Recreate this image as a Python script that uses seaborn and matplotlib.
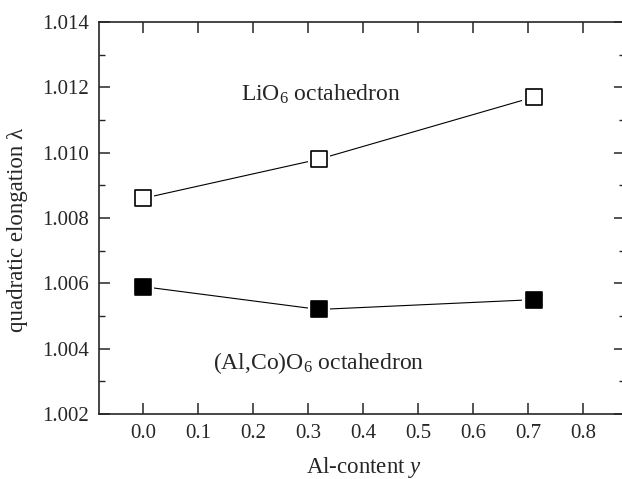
import matplotlib
matplotlib.use("Agg")
import pandas as pd
import matplotlib.pyplot as plt
import seaborn as sns
from matplotlib.ticker import MultipleLocator

# values
al_content = [0.0, 0.32, 0.71]
lio6 = [1.0086, 1.0098, 1.0117]
alcoo6 = [1.0059, 1.0052, 1.0055]
x_ticks = [0.0, 0.1, 0.2, 0.3, 0.4, 0.5, 0.6, 0.7, 0.8]
y_ticks = [1.002, 1.004, 1.006, 1.008, 1.010, 1.012, 1.014]

df = pd.DataFrame({
    "y": al_content * 2,
    "lam": lio6 + alcoo6,
    "site": ["LiO6"] * 3 + ["AlCoO6"] * 3,
})

sns.set_style("ticks")
plt.rcParams["font.family"] = ["Liberation Serif", "DejaVu Serif"]
plt.rcParams["mathtext.fontset"] = "custom"
plt.rcParams["mathtext.rm"] = "Liberation Serif"
plt.rcParams["mathtext.it"] = "Liberation Serif:italic"

fig = plt.figure(figsize=(6.22, 4.79), dpi=100)
ax = fig.add_axes([0.159, 0.1357, 0.8457, 0.8184])

for site, face in [("LiO6", "white"), ("AlCoO6", "black")]:
    sub = df[df["site"] == site]
    sns.lineplot(data=sub, x="y", y="lam", ax=ax, color="black",
                 linewidth=0.8, zorder=2)
    # white halo so the line stops short of the marker
    sns.scatterplot(data=sub, x="y", y="lam", ax=ax, marker="s", s=260,
                    color="white", edgecolor="none", zorder=3)
    sns.scatterplot(data=sub, x="y", y="lam", ax=ax, marker="s", s=120,
                    color=face, edgecolor="black", linewidth=1.2, zorder=4)

ax.set_xlim(-0.08, 0.876)
ax.set_ylim(1.002, 1.014)
ax.set_xticks(x_ticks)
ax.set_xticklabels([f"{t:.1f}" for t in x_ticks])
ax.set_yticks(y_ticks)
ax.set_yticklabels([f"{t:.3f}" for t in y_ticks])
ax.yaxis.set_minor_locator(MultipleLocator(0.001))

ax.tick_params(axis="both", which="major", direction="in", length=8,
               width=1.1, labelsize=15, top=True, right=True, pad=7)
ax.tick_params(axis="y", which="minor", direction="in", length=4.5,
               width=1.0, right=True)
for sp in ax.spines.values():
    sp.set_linewidth(1.2)
    sp.set_visible(True)

ax.text(0.178, 1.01177, "LiO$_6$ octahedron", fontsize=17,
        ha="left", va="center")
ax.text(0.127, 1.00356, "(Al,Co)O$_6$ octahedron", fontsize=17,
        ha="left", va="center")

ax.set_xlabel("Al-content $\\mathit{y}$", fontsize=16.5)
ax.set_ylabel("quadratic elongation λ", fontsize=16.5)
ax.xaxis.set_label_coords(0.504, -0.105)
ax.yaxis.set_label_coords(-0.135, 0.469)

fig.savefig("out.png", dpi=100)
